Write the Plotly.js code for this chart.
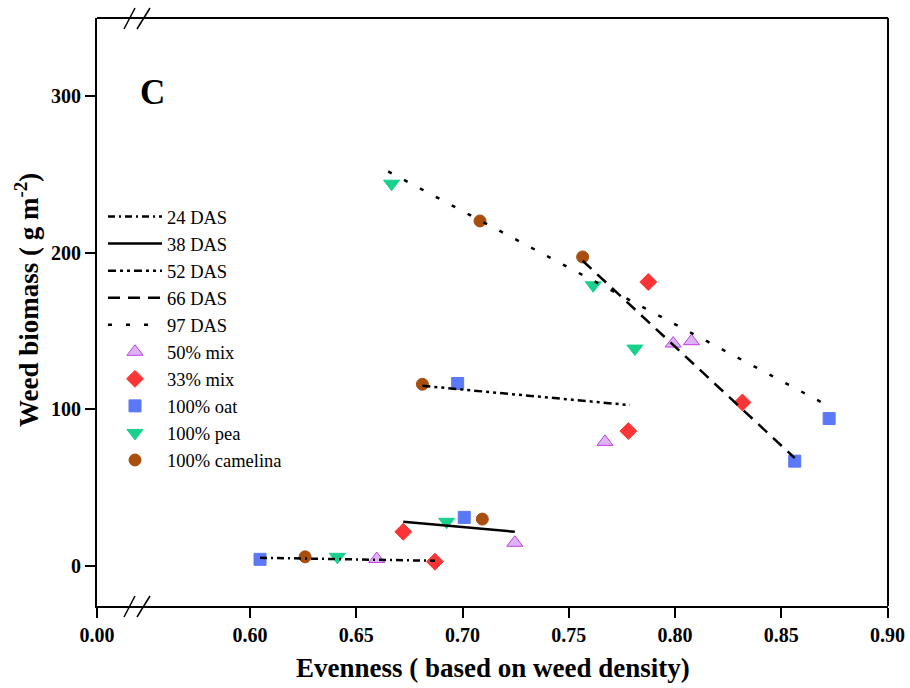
<!DOCTYPE html>
<html>
<head>
<meta charset="utf-8">
<script src="https://cdn.plot.ly/plotly-3.0.1.min.js"></script>
<style>html,body{margin:0;padding:0;background:#fff;}#chart{width:910px;height:688px;}</style>
</head>
<body>
<div id="chart"></div>
<script>
// ---- Data ----
const dasLabels = ['24 DAS', '38 DAS', '52 DAS', '66 DAS', '97 DAS'];
// fitted line end points per DAS
const fitXStart = [0.6047, 0.6721, 0.6811, 0.7565, 0.6650];
const fitXEnd   = [0.6870, 0.7246, 0.7787, 0.8563, 0.8725];
const fitYStart = [5.3, 28.3, 115.1, 195.0, 252.0];
const fitYEnd   = [3.4, 21.9, 102.8, 69.0, 102.0];

const treatments = ['50% mix', '33% mix', '100% oat', '100% pea', '100% camelina'];
// points in DAS order: 24, 38, 52, 66, 97
const mix50X = [0.6596, 0.7246, 0.7670, 0.7991, 0.8077];
const mix50Y = [4.5, 14.9, 79.3, 142.1, 143.6];
const mix33X = [0.6870, 0.6721, 0.7780, 0.8317, 0.7874];
const mix33Y = [2.8, 21.9, 86.2, 104.5, 181.4];
const oatX   = [0.6047, 0.7008, 0.6977, 0.8563, 0.8725];
const oatY   = [4.3, 31.1, 116.6, 67.0, 94.2];
const peaX   = [0.6411, 0.6925, 0.7811, 0.7615, 0.6666];
const peaY   = [5.9, 28.3, 138.9, 179.3, 244.2];
const camX   = [0.6259, 0.7093, 0.6811, 0.7565, 0.7082];
const camY   = [5.9, 30.0, 116.1, 197.4, 220.4];

const xTickVals = [0.60, 0.65, 0.70, 0.75, 0.80, 0.85, 0.90];
const xTickText = ['0.60', '0.65', '0.70', '0.75', '0.80', '0.85', '0.90'];
const yTickVals = [0, 100, 200, 300];

// ---- Styles ----
const FONT = 'Liberation Serif, Times New Roman, serif';
const lineDashes = ['7px,4px,2px,4px', 'solid', '8px,4px,3px,4px,3px,4px', '12px,8px', '4px,14px'];
const markerDefs = [
  {x: mix50X, y: mix50Y, symbol: 'triangle-up', color: '#dcb4f4', line: '#c23ee6', size: 14},
  {x: mix33X, y: mix33Y, symbol: 'diamond', color: '#fb3535', line: '#fb3535', size: 13},
  {x: oatX, y: oatY, symbol: 'square', color: '#5b78f7', line: '#5b78f7', size: 12},
  {x: peaX, y: peaY, symbol: 'triangle-down', color: '#19d08c', line: '#19d08c', size: 14},
  {x: camX, y: camY, symbol: 'circle', color: '#a84f0e', line: '#a84f0e', size: 12}
];

const traces = [];
// empty trace so the left (0.00) axis segment and its subplot exist
traces.push({type: 'scatter', mode: 'markers', xaxis: 'x', yaxis: 'y', x: [null], y: [null],
  showlegend: false, hoverinfo: 'skip'});
markerDefs.forEach((m, i) => {
  traces.push({
    type: 'scatter', mode: 'markers', xaxis: 'x2', yaxis: 'y',
    x: m.x, y: m.y, name: treatments[i], legendrank: 100 + i,
    marker: {symbol: m.symbol, color: m.color, size: m.size, line: {color: m.line, width: 1}},
    cliponaxis: false
  });
});
dasLabels.forEach((d, i) => {
  traces.push({
    type: 'scatter', mode: 'lines', xaxis: 'x2', yaxis: 'y',
    x: [fitXStart[i], fitXEnd[i]], y: [fitYStart[i], fitYEnd[i]],
    name: d, legendrank: 10 + i,
    line: {color: '#000', width: 2.5, dash: lineDashes[i]}
  });
});

const L = 97, R = 888, T = 18, B = 606;
const W = R - L, H = B - T;
const px = v => (v - L) / W;
const py = v => (B - v) / H;
const split = px(137);

const axisCommon = {
  showline: true, linewidth: 2, linecolor: '#000', showgrid: false, zeroline: false,
  ticks: 'outside', ticklen: 10, tickwidth: 2, tickcolor: '#000',
  tickfont: {family: FONT, size: 20, color: '#000', weight: 'bold'}
};

const slash = (x0, y0, x1, y1) => ({type: 'line', xref: 'paper', yref: 'paper',
  x0: px(x0), y0: py(y0), x1: px(x1), y1: py(y1), line: {color: '#000', width: 1.5}});

const layout = {
  width: 910, height: 688,
  margin: {l: L, r: 910 - R, t: T, b: 688 - B, pad: 0},
  paper_bgcolor: '#fff', plot_bgcolor: '#fff',
  showlegend: true,
  legend: {x: px(103), y: py(198), xanchor: 'left', yanchor: 'top', bgcolor: 'rgba(0,0,0,0)',
    font: {family: FONT, size: 18.5, color: '#000'}, itemwidth: 54, traceorder: 'normal'},
  xaxis: Object.assign({}, axisCommon, {domain: [0, split], range: [0, 0.02], tickvals: [0], ticktext: ['0.00'], anchor: 'y'}),
  xaxis2: Object.assign({}, axisCommon, {domain: [split, 1], range: [0.5468, 0.9002], tickvals: xTickVals, ticktext: xTickText, anchor: 'y'}),
  yaxis: Object.assign({}, axisCommon, {domain: [0, 1], range: [-25.5, 350], tickvals: yTickVals, anchor: 'x'}),
  shapes: [
    {type: 'line', xref: 'paper', yref: 'paper', x0: 0, y0: 1, x1: 1, y1: 1, line: {color: '#000', width: 2}},
    {type: 'line', xref: 'paper', yref: 'paper', x0: 1, y0: 0, x1: 1, y1: 1, line: {color: '#000', width: 2}},
    slash(124, 617, 135, 596), slash(137, 617, 150, 596),
    slash(124, 29, 135, 8), slash(137, 29, 150, 8)
  ],
  annotations: [
    {xref: 'paper', yref: 'paper', x: px(152), y: py(92), xanchor: 'center', yanchor: 'middle',
      text: '<b>C</b>', showarrow: false, font: {family: FONT, size: 35, color: '#000'}},
    {xref: 'paper', yref: 'paper', x: px(493), y: py(668), xanchor: 'center', yanchor: 'middle',
      text: '<b>Evenness ( based on weed density)</b>', showarrow: false,
      font: {family: FONT, size: 27, color: '#000'}},
    {xref: 'paper', yref: 'paper', x: px(27), y: py(300), xanchor: 'center', yanchor: 'middle',
      text: '<b>Weed biomass ( g m<sup>-2</sup>)</b>', showarrow: false,
      textangle: -90, font: {family: FONT, size: 27, color: '#000'}}
  ]
};

Plotly.newPlot('chart', traces, layout, {staticPlot: true, displayModeBar: false});
</script>
</body>
</html>
